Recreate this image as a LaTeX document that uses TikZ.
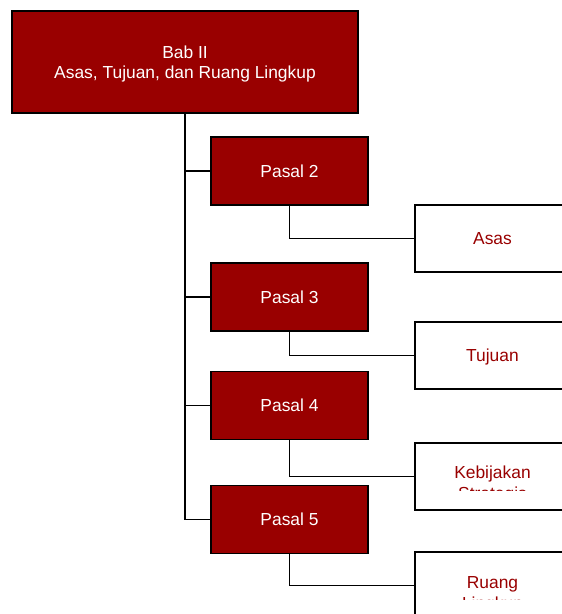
\documentclass[tikz,border=0pt]{standalone}
\usepackage{fontspec}
\setmainfont{Liberation Sans}
\usepackage{xcolor}
\definecolor{babred}{HTML}{990000}

\begin{document}
\begin{tikzpicture}[x=1pt, y=-1pt,
  bab/.style={draw=black, fill=babred, text=white, line width=1.4pt,
              minimum width=346pt, minimum height=102pt, align=center,
              font=\fontsize{17.4}{20}\selectfont, text depth=0pt},
  pasal/.style={draw=black, fill=babred, text=white, line width=1.4pt,
                minimum width=157pt, minimum height=68pt,
                font=\fontsize{17.4}{20}\selectfont},
  isi/.style={draw=black, fill=white, text=babred, line width=1.4pt,
              minimum width=155pt, minimum height=67pt,
              font=\fontsize{17.4}{20}\selectfont, text height=12.5pt, text depth=0pt},
  isitext/.style={text=babred, align=center, inner sep=0pt,
                  font=\fontsize{17.4}{21}\selectfont},
  link/.style={draw=black, line width=1.5pt},
]
\clip (0,0) rectangle (562,614);

% --- Bab ---
\node[bab] (bab) at (185,62) {Bab II\\Asas, Tujuan, dan Ruang Lingkup};

% --- Pasal ---
\node[pasal] (pasal2) at (289.5,171) {Pasal 2};
\node[pasal] (pasal3) at (289.5,297) {Pasal 3};
\node[pasal] (pasal4) at (289.5,405.5) {Pasal 4};
\node[pasal] (pasal5) at (289.5,519.5) {Pasal 5};

% --- Isi ---
\node[isi] (asas)      at (492.5,238.5) {Asas};
\node[isi] (tujuan)    at (492.5,355.5) {Tujuan};
\node[isi] (kebijakan) at (492.5,476.5) {};
\node[isi] (ruang)     at (492.5,585.5) {};

\begin{scope}
  \clip (415,444) rectangle (562,490);
  \node[isitext, anchor=base] (kebijakantext) at (492.5,499.7) {Kebijakan\\Strategis};
\end{scope}
\begin{scope}
  \clip (415,553) rectangle (562,599);
  \node[isitext, anchor=base] (ruangtext) at (492.5,609.3) {Ruang\\Lingkup};
\end{scope}

% --- Garis ---
\foreach \p in {pasal2,pasal3,pasal4,pasal5}
  \path[link] (bab.south) |- (\p.west);
\path[link] (pasal2.south) |- (asas.west);
\path[link] (pasal3.south) |- (tujuan.west);
\path[link] (pasal4.south) |- (kebijakan.west);
\path[link] (pasal5.south) |- (ruang.west);

\end{tikzpicture}
\end{document}
